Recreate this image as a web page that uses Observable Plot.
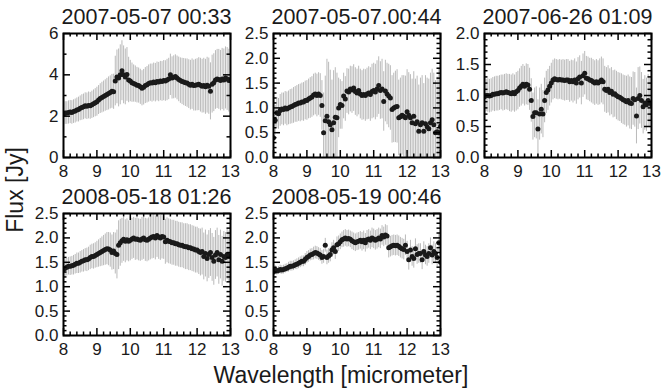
<!DOCTYPE html>
<html>
<head>
<meta charset="utf-8">
<script src="https://cdn.jsdelivr.net/npm/d3@7"></script>
<script src="https://cdn.jsdelivr.net/npm/@observablehq/plot@0.6"></script>
<style>
  html, body { margin: 0; padding: 0; background: #fff; }
  #chart { position: relative; width: 663px; height: 389px; overflow: hidden; font-family: "Liberation Sans", Arial, sans-serif; color: #1a1a1a; }
  .pnl { position: absolute; }
  .lbl { position: absolute; white-space: nowrap; font-size: 23px; color: #1a1a1a; }
  .ttl { position: absolute; white-space: nowrap; font-size: 21.5px; color: #1a1a1a; transform: translate(-50%, -50%); }
</style>
</head>
<body>
<div id="chart"></div>
<script>
// ---- data ----
const wave = [8.00,8.05,8.10,8.15,8.20,8.25,8.30,8.35,8.40,8.45,8.50,8.55,8.60,8.65,8.70,8.75,8.80,8.85,8.90,8.95,
  9.00,9.05,9.10,9.15,9.20,9.25,9.30,9.35,9.40,9.45,9.50,9.55,9.60,9.65,9.70,9.75,9.80,9.85,9.90,9.95,
  10.00,10.05,10.10,10.15,10.20,10.25,10.30,10.35,10.40,10.45,10.50,10.55,10.60,10.65,10.70,10.75,10.80,10.85,10.90,10.95,
  11.00,11.05,11.10,11.15,11.20,11.25,11.30,11.35,11.40,11.45,11.50,11.55,11.60,11.65,11.70,11.75,11.80,11.85,11.90,11.95,
  12.00,12.05,12.10,12.15,12.20,12.25,12.30,12.35,12.40,12.45,12.50,12.55,12.60,12.65,12.70,12.75,12.80,12.85,12.90,12.95,13.00];

const titles = ["2007-05-07 00:33", "2007-05-07.00:44", "2007-06-26 01:09", "2008-05-18 01:26", "2008-05-19 00:46"];

const flux1 = [2.10,2.15,2.15,2.18,2.20,2.18,2.22,2.25,2.30,2.32,2.38,2.42,2.45,2.50,2.48,2.52,2.50,2.55,2.60,2.65,
  2.70,2.78,2.85,2.90,2.95,3.00,3.05,3.10,3.15,3.20,3.18,3.70,3.90,3.85,4.00,4.20,4.00,3.90,4.02,3.75,
  3.70,3.62,3.58,3.55,3.50,3.48,3.42,3.35,3.40,3.48,3.52,3.58,3.62,3.60,3.65,3.62,3.68,3.65,3.70,3.68,
  3.72,3.70,3.75,3.80,4.00,3.85,3.88,3.92,3.85,3.78,3.72,3.68,3.65,3.62,3.60,3.55,3.50,3.55,3.48,3.50,
  3.52,3.55,3.50,3.45,3.48,3.42,3.50,3.45,3.20,3.55,3.62,3.75,3.80,3.78,3.72,3.80,3.75,3.85,3.80,3.72,3.78];
const err1 = [0.55,0.55,0.55,0.56,0.56,0.57,0.57,0.58,0.58,0.60,0.60,0.62,0.62,0.63,0.64,0.65,0.65,0.66,0.67,0.68,
  0.70,0.70,0.72,0.74,0.75,0.76,0.78,0.80,0.80,0.82,0.85,1.20,1.30,1.40,1.45,1.45,1.40,1.35,1.30,1.10,
  1.00,0.95,0.90,0.88,0.86,0.85,0.85,0.85,0.86,0.87,0.88,0.90,0.90,0.92,0.92,0.93,0.94,0.95,0.95,0.96,
  0.97,0.98,1.00,1.00,1.00,1.02,1.04,1.05,1.06,1.08,1.10,1.12,1.14,1.15,1.17,1.18,1.20,1.22,1.23,1.25,
  1.26,1.28,1.30,1.30,1.32,1.33,1.35,1.36,1.38,1.40,1.40,1.42,1.43,1.45,1.46,1.48,1.50,1.50,1.52,1.52,1.55];

const flux2 = [0.40,0.75,0.90,0.88,0.95,0.98,0.97,1.00,0.98,1.00,1.02,1.03,1.05,1.07,1.08,1.10,1.10,1.12,1.12,1.15,
  1.15,1.18,1.20,1.22,1.26,1.28,1.25,1.28,1.25,1.05,0.50,0.74,0.83,0.72,0.66,0.56,0.70,0.81,0.80,1.00,
  1.07,1.05,1.24,1.18,1.34,1.32,1.38,1.36,1.40,1.33,1.30,1.35,1.28,1.25,1.27,1.25,1.28,1.30,1.27,1.33,
  1.35,1.32,1.38,1.45,1.35,1.38,1.13,1.34,1.28,1.24,1.20,0.97,1.00,1.02,1.03,0.80,0.82,0.85,0.83,0.80,
  0.92,0.85,0.80,0.70,0.83,0.68,0.72,0.53,0.66,0.70,0.53,0.68,0.62,0.58,0.70,0.76,0.66,0.50,0.52,0.50,0.63];
const err2 = [0.30,0.30,0.31,0.31,0.32,0.32,0.33,0.33,0.34,0.34,0.35,0.35,0.36,0.36,0.37,0.37,0.38,0.38,0.39,0.39,
  0.40,0.40,0.41,0.41,0.42,0.42,0.43,0.43,0.44,0.50,0.80,0.90,1.15,1.20,1.10,1.00,1.05,1.00,0.90,0.60,
  0.50,0.48,0.46,0.45,0.45,0.46,0.46,0.47,0.47,0.48,0.48,0.49,0.50,0.50,0.51,0.52,0.52,0.53,0.54,0.55,
  0.55,0.56,0.57,0.58,0.58,0.60,0.60,0.62,0.62,0.64,0.65,0.68,0.70,0.72,0.74,0.76,0.78,0.80,0.82,0.84,
  0.85,0.86,0.87,0.88,0.90,0.90,0.92,0.93,0.94,0.95,0.96,0.97,0.98,1.00,1.00,1.02,1.04,1.05,1.10,1.30,1.00];

const flux3 = [0.98,1.00,1.00,0.99,1.00,1.02,1.02,1.03,1.03,1.04,1.05,1.04,1.05,1.06,1.05,1.04,1.03,1.05,1.03,1.06,
  1.08,1.12,1.15,1.18,1.15,1.18,1.17,1.10,0.92,0.66,0.72,0.72,0.46,0.70,0.78,0.70,0.92,1.05,1.09,1.15,
  1.20,1.25,1.27,1.26,1.25,1.26,1.25,1.25,1.24,1.25,1.25,1.22,1.24,1.22,1.25,1.20,1.27,1.30,1.20,1.32,
  1.36,1.28,1.27,1.25,1.24,1.22,1.20,1.22,1.20,1.22,1.25,1.22,1.10,1.08,1.10,1.05,1.07,1.02,1.03,1.00,
  0.98,0.97,0.95,0.93,0.92,0.90,0.92,0.88,0.87,0.95,0.93,0.67,0.95,1.00,0.92,0.82,0.88,0.85,0.92,0.88,0.85];
const err3 = [0.26,0.26,0.27,0.27,0.27,0.27,0.28,0.28,0.28,0.28,0.28,0.29,0.29,0.29,0.29,0.30,0.30,0.30,0.30,0.31,
  0.31,0.31,0.32,0.32,0.32,0.33,0.33,0.34,0.35,0.38,0.40,0.42,0.47,0.42,0.40,0.38,0.36,0.34,0.33,0.32,
  0.32,0.32,0.32,0.32,0.32,0.32,0.32,0.33,0.33,0.33,0.33,0.33,0.33,0.34,0.34,0.34,0.34,0.34,0.35,0.35,
  0.35,0.35,0.35,0.35,0.36,0.36,0.36,0.36,0.36,0.37,0.37,0.37,0.37,0.37,0.38,0.38,0.38,0.38,0.38,0.39,
  0.39,0.39,0.40,0.40,0.40,0.41,0.41,0.42,0.42,0.43,0.44,0.45,0.50,0.46,0.45,0.44,0.44,0.43,0.42,0.40,0.40];

const flux4 = [1.35,1.38,1.40,1.42,1.42,1.43,1.44,1.46,1.48,1.48,1.50,1.52,1.53,1.55,1.55,1.57,1.60,1.62,1.62,1.64,
  1.66,1.68,1.70,1.72,1.74,1.76,1.78,1.77,1.75,1.70,1.73,1.68,1.66,1.85,1.90,1.94,1.97,1.93,1.96,1.93,
  1.95,1.98,2.00,1.97,1.98,1.96,1.95,1.98,2.00,1.96,1.95,1.97,2.00,2.02,2.03,2.00,2.05,2.02,2.00,2.03,
  2.02,1.92,1.95,1.93,1.92,1.90,1.90,1.88,1.88,1.86,1.85,1.85,1.83,1.82,1.82,1.80,1.80,1.78,1.77,1.75,
  1.75,1.72,1.70,1.72,1.62,1.68,1.58,1.66,1.70,1.60,1.52,1.65,1.70,1.55,1.66,1.52,1.62,1.60,1.66,1.62,1.64];
const err4 = [0.17,0.17,0.18,0.18,0.19,0.19,0.20,0.20,0.21,0.21,0.22,0.22,0.23,0.23,0.24,0.24,0.25,0.25,0.26,0.26,
  0.27,0.28,0.29,0.30,0.31,0.32,0.33,0.34,0.35,0.36,0.38,0.42,0.50,0.50,0.48,0.46,0.45,0.44,0.43,0.42,
  0.42,0.42,0.42,0.43,0.43,0.43,0.43,0.44,0.44,0.44,0.44,0.44,0.45,0.45,0.45,0.45,0.45,0.46,0.46,0.46,
  0.46,0.46,0.46,0.46,0.46,0.46,0.46,0.46,0.46,0.46,0.46,0.46,0.46,0.47,0.47,0.47,0.47,0.47,0.47,0.47,
  0.47,0.47,0.48,0.48,0.48,0.48,0.48,0.49,0.49,0.49,0.49,0.50,0.50,0.50,0.50,0.51,0.51,0.51,0.52,0.52,0.52];

const flux5 = [1.30,1.35,1.32,1.33,1.35,1.34,1.35,1.37,1.38,1.40,1.42,1.42,1.43,1.45,1.46,1.48,1.50,1.52,1.52,1.56,
  1.60,1.62,1.65,1.66,1.68,1.70,1.69,1.67,1.65,1.60,1.62,1.85,1.60,1.63,1.66,1.75,1.80,1.72,1.86,1.88,
  1.92,1.96,1.98,2.00,1.98,1.99,1.97,1.94,1.92,1.90,1.92,1.93,1.95,1.92,1.95,1.90,1.96,1.98,1.95,2.00,
  1.98,1.95,1.97,2.00,1.98,2.05,2.02,2.06,2.04,1.80,1.82,1.84,1.85,1.84,1.85,1.83,1.80,1.78,1.76,1.85,
  1.72,1.55,1.75,1.62,1.58,1.78,1.66,1.68,1.68,1.55,1.72,1.65,1.62,1.68,1.80,1.65,1.72,1.68,1.60,1.90,1.50];
const err5 = [0.08,0.08,0.08,0.08,0.09,0.09,0.09,0.09,0.09,0.10,0.10,0.10,0.10,0.10,0.11,0.11,0.11,0.11,0.11,0.12,
  0.12,0.12,0.12,0.12,0.13,0.13,0.13,0.13,0.13,0.14,0.14,0.14,0.15,0.15,0.15,0.15,0.15,0.16,0.16,0.16,
  0.16,0.16,0.17,0.17,0.17,0.17,0.17,0.18,0.18,0.18,0.18,0.18,0.18,0.19,0.19,0.19,0.19,0.19,0.19,0.20,
  0.20,0.20,0.20,0.20,0.20,0.20,0.20,0.21,0.21,0.21,0.21,0.21,0.21,0.21,0.21,0.21,0.21,0.21,0.21,0.21,
  0.21,0.21,0.20,0.20,0.20,0.20,0.20,0.20,0.20,0.20,0.20,0.20,0.20,0.20,0.20,0.20,0.20,0.20,0.20,0.20,0.20];

const xTicks = [8, 9, 10, 11, 12, 13];
const yTicks6 = [0, 2, 4, 6];
const yTicks25 = [0.0, 0.5, 1.0, 1.5, 2.0, 2.5];
const yTicks20 = [0.0, 0.5, 1.0, 1.5, 2.0];

// ---- layout ----
const FONT = '"Liberation Sans", Arial, Helvetica, sans-serif';
const mL = 48, mR = 6, mT = 6, mB = 30;
const FW = 167;

function minorTicks(lo, hi, step, majors) {
  return d3.range(Math.round((hi - lo) / step) + 1).map(i => +(lo + i * step).toFixed(4))
    .filter(v => !majors.some(m => Math.abs(m - v) < 1e-6));
}

const chart = document.getElementById("chart");

function panel({title, flux, err, yMax, yMajor, yMinorStep, yFmt, fx, fy, fh}) {
  const rows = wave.map((w, i) => ({w, f: flux[i], lo: flux[i] - err[i], hi: flux[i] + err[i]}));
  const xMinor = minorTicks(8, 13, 0.2, xTicks);
  const yMinor = minorTicks(0, yMax, yMinorStep, yMajor);
  const big = 7, small = 3.5;
  const el = Plot.plot({
    width: mL + FW + mR,
    height: mT + fh + mB,
    marginLeft: mL, marginRight: mR, marginTop: mT, marginBottom: mB,
    x: {domain: [8, 13]},
    y: {domain: [0, yMax]},
    style: {fontFamily: FONT, fontSize: "17px", color: "#1a1a1a", background: "transparent", overflow: "visible"},
    marks: [
      Plot.ruleX(rows, {x: "w", y1: "lo", y2: "hi", stroke: "#a3a3a3", strokeWidth: 0.75, clip: true}),
      Plot.dot(rows, {x: "w", y: "f", r: 2.5, fill: "#1a1a1a", stroke: "none", clip: true}),
      // inward ticks on all four sides
      Plot.ruleX(xTicks, {x: d => d, insetTop: fh - big, stroke: "#000", strokeWidth: 1.5}),
      Plot.ruleX(xTicks, {x: d => d, insetBottom: fh - big, stroke: "#000", strokeWidth: 1.5}),
      Plot.ruleX(xMinor, {x: d => d, insetTop: fh - small, stroke: "#000", strokeWidth: 1.5}),
      Plot.ruleX(xMinor, {x: d => d, insetBottom: fh - small, stroke: "#000", strokeWidth: 1.5}),
      Plot.ruleY(yMajor, {y: d => d, insetRight: FW - big, stroke: "#000", strokeWidth: 1.5}),
      Plot.ruleY(yMajor, {y: d => d, insetLeft: FW - big, stroke: "#000", strokeWidth: 1.5}),
      Plot.ruleY(yMinor, {y: d => d, insetRight: FW - small, stroke: "#000", strokeWidth: 1.5}),
      Plot.ruleY(yMinor, {y: d => d, insetLeft: FW - small, stroke: "#000", strokeWidth: 1.5}),
      Plot.axisX({ticks: xTicks, tickSize: 0, tickPadding: 7, fontSize: 17, tickFormat: d3.format("d"), label: null}),
      Plot.axisY({ticks: yMajor, tickSize: 0, tickPadding: 5, fontSize: 17, tickFormat: yFmt, label: null}),
      Plot.frame({stroke: "#000", strokeWidth: 2})
    ]
  });
  el.classList.add("pnl");
  el.style.left = (fx - mL) + "px";
  el.style.top = (fy - mT) + "px";
  chart.append(el);

  const t = document.createElement("div");
  t.className = "ttl";
  t.textContent = title;
  t.style.left = (fx + FW / 2) + "px";
  t.style.top = (fy - 16) + "px";
  chart.append(t);
}

const f1 = d3.format(".1f"), f0 = d3.format("d");
const topY = 33, topH = 124, botY = 213, botH = 122;
panel({title: titles[0], flux: flux1, err: err1, yMax: 6, yMajor: yTicks6, yMinorStep: 1, yFmt: f0, fx: 63, fy: topY, fh: topH});
panel({title: titles[1], flux: flux2, err: err2, yMax: 2.5, yMajor: yTicks25, yMinorStep: 0.1, yFmt: f1, fx: 273, fy: topY, fh: topH});
panel({title: titles[2], flux: flux3, err: err3, yMax: 2.0, yMajor: yTicks20, yMinorStep: 0.1, yFmt: f1, fx: 484, fy: topY, fh: topH});
panel({title: titles[3], flux: flux4, err: err4, yMax: 2.5, yMajor: yTicks25, yMinorStep: 0.1, yFmt: f1, fx: 63, fy: botY, fh: botH});
panel({title: titles[4], flux: flux5, err: err5, yMax: 2.5, yMajor: yTicks25, yMinorStep: 0.1, yFmt: f1, fx: 273, fy: botY, fh: botH});

const xl = document.createElement("div");
xl.className = "lbl";
xl.textContent = "Wavelength [micrometer]";
xl.style.left = "341px"; xl.style.top = "375px";
xl.style.transform = "translate(-50%, -50%)";
chart.append(xl);

const yl = document.createElement("div");
yl.className = "lbl";
yl.textContent = "Flux [Jy]";
yl.style.left = "15px"; yl.style.top = "190px";
yl.style.transform = "translate(-50%, -50%) rotate(-90deg)";
chart.append(yl);
</script>
</body>
</html>
